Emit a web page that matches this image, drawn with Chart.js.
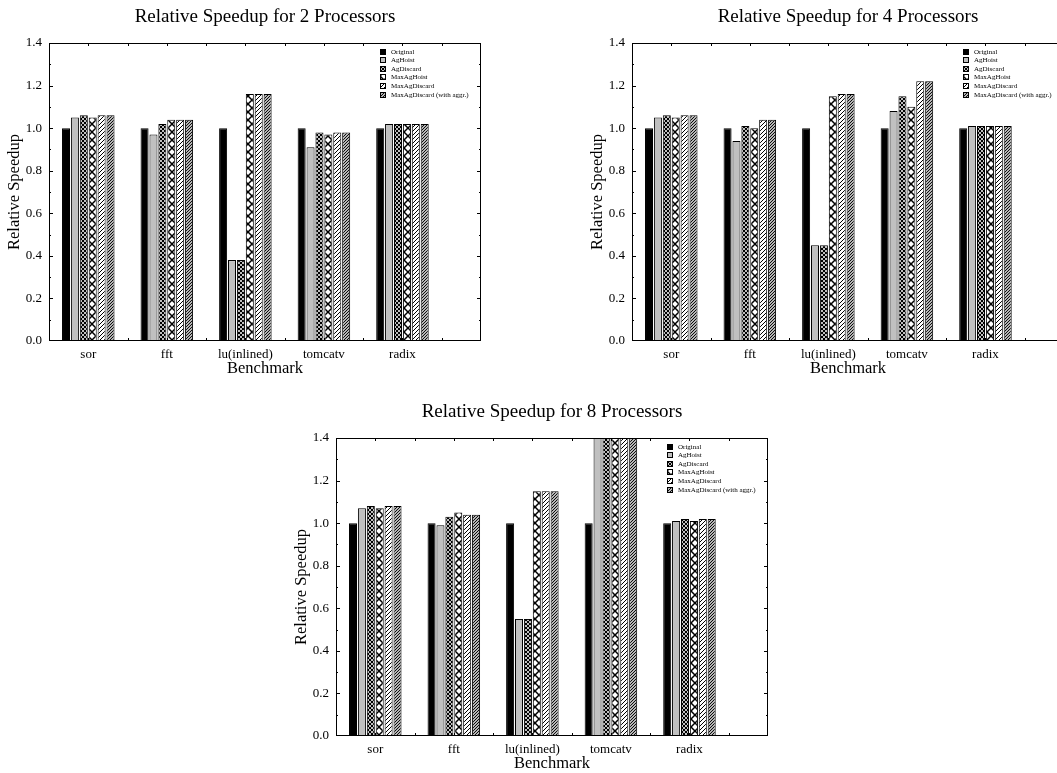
<!DOCTYPE html>
<html>
<head>
<meta charset="utf-8">
<script src="https://cdn.jsdelivr.net/npm/chart.js@4"></script>
<style>
  html, body { margin: 0; padding: 0; background: #fff; overflow: hidden; width: 1057px; height: 773px; }
  .box { position: absolute; width: 530px; height: 380px; }
</style>
</head>
<body>
<div class="box" style="left:0;top:0"><canvas id="c2" width="530" height="380"></canvas></div>
<div class="box" style="left:583px;top:0"><canvas id="c4" width="530" height="380"></canvas></div>
<div class="box" style="left:287px;top:395px"><canvas id="c8" width="530" height="380"></canvas></div>
<script>
const benchmarks = ["sor", "fft", "lu(inlined)", "tomcatv", "radix"];
const variants = ["Original", "AgHoist", "AgDiscard", "MaxAgHoist", "MaxAgDiscard", "MaxAgDiscard (with aggr.)"];

// 2 processors
const p2Original     = [1.00, 1.00, 1.00, 1.00, 1.00];
const p2AgHoist      = [1.05, 0.97, 0.38, 0.91, 1.02];
const p2AgDiscard    = [1.06, 1.02, 0.38, 0.98, 1.02];
const p2MaxAgHoist   = [1.05, 1.04, 1.16, 0.97, 1.02];
const p2MaxAgDiscard = [1.06, 1.04, 1.16, 0.98, 1.02];
const p2MaxAgAggr    = [1.06, 1.04, 1.16, 0.98, 1.02];

// 4 processors
const p4Original     = [1.00, 1.00, 1.00, 1.00, 1.00];
const p4AgHoist      = [1.05, 0.94, 0.45, 1.08, 1.01];
const p4AgDiscard    = [1.06, 1.01, 0.45, 1.15, 1.01];
const p4MaxAgHoist   = [1.05, 1.00, 1.15, 1.10, 1.01];
const p4MaxAgDiscard = [1.06, 1.04, 1.16, 1.22, 1.01];
const p4MaxAgAggr    = [1.06, 1.04, 1.16, 1.22, 1.01];

// 8 processors (tomcatv runs off the top of the axis)
const p8Original     = [1.00, 1.00, 1.00, 1.00, 1.00];
const p8AgHoist      = [1.07, 0.99, 0.55, 1.45, 1.01];
const p8AgDiscard    = [1.08, 1.03, 0.55, 1.52, 1.02];
const p8MaxAgHoist   = [1.07, 1.05, 1.15, 1.48, 1.01];
const p8MaxAgDiscard = [1.08, 1.04, 1.15, 1.60, 1.02];
const p8MaxAgAggr    = [1.08, 1.04, 1.15, 1.60, 1.02];

const FONT = "'Liberation Serif', 'Times New Roman', serif";
Chart.defaults.font.family = FONT;
Chart.defaults.color = "#000";

// fill patterns for the bars
function tile(w, h, draw) {
  const c = document.createElement("canvas");
  c.width = w;
  c.height = h;
  const g = c.getContext("2d");
  draw(g, w, h);
  return c.getContext("2d").createPattern(c, "repeat");
}

const dotsFill = tile(4, 4, (g) => {
  g.fillStyle = "#000";
  g.fillRect(0, 0, 4, 4);
  g.fillStyle = "#fff";
  g.beginPath(); g.arc(1, 1, 1, 0, Math.PI * 2); g.fill();
  g.beginPath(); g.arc(3, 3, 1, 0, Math.PI * 2); g.fill();
});

const zigzagFill = tile(8, 8, (g, w, h) => {
  g.fillStyle = "#fff";
  g.fillRect(0, 0, w, h);
  g.strokeStyle = "#000";
  g.lineWidth = 1.5;
  g.beginPath();
  g.moveTo(0, 0); g.lineTo(w, h);
  g.moveTo(w, 0); g.lineTo(0, h);
  g.stroke();
});

function diagFill(s, lw) {
  return tile(s, s, (g) => {
    g.fillStyle = "#fff";
    g.fillRect(0, 0, s, s);
    g.strokeStyle = "#000";
    g.lineWidth = lw;
    g.beginPath();
    g.moveTo(-1, 1); g.lineTo(1, -1);
    g.moveTo(0, s); g.lineTo(s, 0);
    g.moveTo(s - 1, s + 1); g.lineTo(s + 1, s - 1);
    g.stroke();
  });
}

const fills = ["#000000", "#c0c0c0", dotsFill, zigzagFill, diagFill(4, 1), diagFill(3, 1.1)];

// box around the plot with inward ticks
const framePlugin = {
  id: "frame",
  afterDatasetsDraw(chart) {
    const { ctx, chartArea: a, scales: { x, y } } = chart;
    ctx.save();
    ctx.strokeStyle = "#000";
    ctx.lineWidth = 1;
    ctx.strokeRect(a.left + 0.5, a.top + 0.5, a.right - a.left - 1, a.bottom - a.top - 1);
    ctx.beginPath();
    for (let i = 1; i < 14; i++) {
      const py = Math.round(y.getPixelForValue(i / 10)) + 0.5;
      const len = i % 2 === 0 ? 4 : 2;
      ctx.moveTo(a.left, py); ctx.lineTo(a.left + len, py);
      ctx.moveTo(a.right, py); ctx.lineTo(a.right - len, py);
    }
    for (let k = 2; k < 12; k++) {
      const px = Math.round(x.getPixelForValue(k / 2)) + 0.5;
      ctx.moveTo(px, a.bottom); ctx.lineTo(px, a.bottom - 3);
      ctx.moveTo(px, a.top); ctx.lineTo(px, a.top + 3);
    }
    ctx.stroke();
    ctx.restore();
  },
};

// small legend in the top right corner of the plot
const boxLegend = {
  id: "boxLegend",
  afterDraw(chart) {
    const { ctx, chartArea: a } = chart;
    ctx.save();
    ctx.font = "7px " + FONT;
    ctx.textBaseline = "middle";
    ctx.strokeStyle = "#000";
    ctx.lineWidth = 1;
    chart.data.datasets.forEach((ds, i) => {
      const bx = Math.round(a.right - 101);
      const cy = Math.round(a.top + 8.5 + i * 8.6);
      ctx.fillStyle = ds.backgroundColor;
      ctx.fillRect(bx, cy - 3, 6, 6);
      ctx.strokeRect(bx + 0.5, cy - 2.5, 5, 5);
      ctx.fillStyle = "#000";
      ctx.fillText(ds.label, bx + 11, cy + 0.5);
    });
    ctx.restore();
  },
};

function makeChart(id, title, series) {
  const datasets = variants.map((name, i) => ({
    label: name,
    data: series[i].map((v, j) => ({ x: j + 1, y: v })),
    backgroundColor: fills[i],
    borderColor: "#000",
    borderWidth: 1,
    borderSkipped: "start",
    categoryPercentage: 0.68,
    barPercentage: 0.9,
    clip: 0,
  }));

  return new Chart(document.getElementById(id), {
    type: "bar",
    data: { datasets: datasets },
    options: {
      responsive: false,
      animation: false,
      layout: { padding: { right: 49 } },
      plugins: {
        legend: { display: false },
        tooltip: { enabled: false },
        title: {
          display: true,
          text: title,
          fullSize: false,
          color: "#000",
          font: { size: 19, weight: "normal", family: FONT },
          padding: { top: 6, bottom: 14.2 },
        },
      },
      scales: {
        x: {
          type: "linear",
          min: 0.5,
          max: 6.0,
          offset: false,
          grid: { display: false, drawTicks: false },
          border: { display: false },
          afterBuildTicks: (s) => {
            s.ticks = benchmarks.map((_, i) => ({ value: i + 1 }));
          },
          afterFit: (s) => { s.height = 39; },
          ticks: {
            autoSkip: false,
            maxRotation: 0,
            padding: 6,
            font: { size: 13 },
            callback: (v) => benchmarks[v - 1] || "",
          },
          title: {
            display: true,
            text: "Benchmark",
            font: { size: 16.5 },
            padding: { top: 0, bottom: 1 },
          },
        },
        y: {
          min: 0,
          max: 1.4,
          grid: { display: false, drawTicks: false },
          border: { display: false },
          afterFit: (s) => { s.width = 49; },
          ticks: {
            stepSize: 0.2,
            padding: 7,
            font: { size: 13 },
            callback: (v) => v.toFixed(1),
          },
          title: {
            display: true,
            text: "Relative Speedup",
            font: { size: 16.5 },
            padding: { top: 5, bottom: 0 },
          },
        },
      },
    },
    plugins: [framePlugin, boxLegend],
  });
}

makeChart("c2", "Relative Speedup for 2 Processors",
  [p2Original, p2AgHoist, p2AgDiscard, p2MaxAgHoist, p2MaxAgDiscard, p2MaxAgAggr]);
makeChart("c4", "Relative Speedup for 4 Processors",
  [p4Original, p4AgHoist, p4AgDiscard, p4MaxAgHoist, p4MaxAgDiscard, p4MaxAgAggr]);
makeChart("c8", "Relative Speedup for 8 Processors",
  [p8Original, p8AgHoist, p8AgDiscard, p8MaxAgHoist, p8MaxAgDiscard, p8MaxAgAggr]);
</script>
</body>
</html>
